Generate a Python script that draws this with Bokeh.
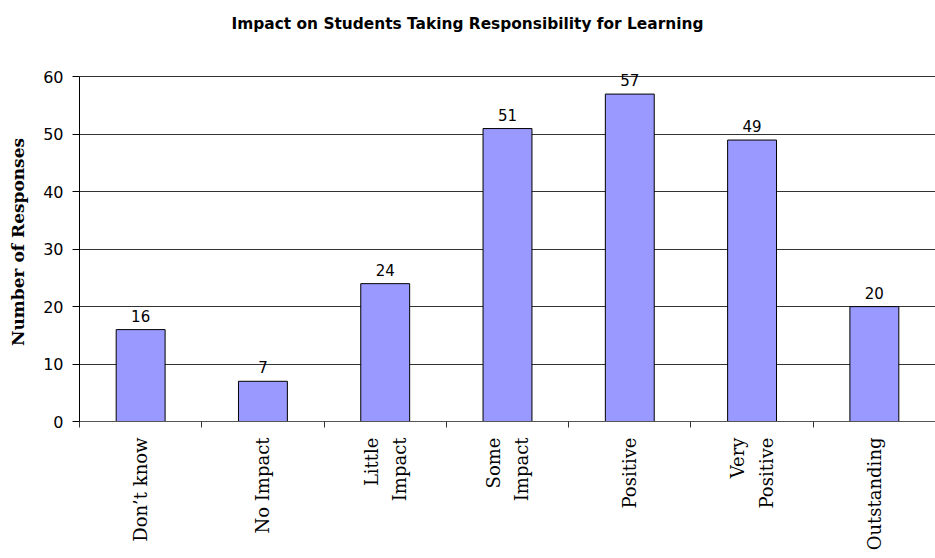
import math
from bokeh.plotting import figure
from bokeh.models import ColumnDataSource, FixedTicker, Range1d
from bokeh.core.properties import value
from bokeh.embed import file_html
from bokeh.resources import INLINE

# ---- data ----
categories = ["Don\u2019t know", "No Impact", "Little\nImpact", "Some\nImpact",
              "Positive", "Very\nPositive", "Outstanding"]
responses = [16, 7, 24, 51, 57, 49, 20]
y_ticks = [0, 10, 20, 30, 40, 50, 60]
title_text = "Impact on Students Taking Responsibility for Learning"
y_label = "Number of Responses"

xs = [i + 0.5 for i in range(len(categories))]
bounds = list(range(len(categories) + 1))
source = ColumnDataSource(dict(x=xs, top=responses, label=[str(v) for v in responses]))

p = figure(frame_width=856, frame_height=359,
           x_range=Range1d(0, len(categories)), y_range=Range1d(0, 62.5),
           output_backend="svg", toolbar_location=None,
           min_border_left=79, min_border_right=0, min_border_top=62, min_border_bottom=129)

# a trailing blank line lifts the title towards the top of the page
p.title.text = title_text + "\n "
p.title.align = "left"
p.title.offset = 152
p.title.text_font = "DejaVu Sans"
p.title.text_font_style = "bold"
p.title.text_font_size = "15.4px"
p.title.text_color = "black"
p.title.standoff = 24

p.outline_line_color = None
p.background_fill_color = "white"
p.border_fill_color = "white"

p.vbar(x="x", top="top", bottom=0, width=0.4, source=source,
       fill_color="#9999FF", line_color="black", line_width=1)
p.text(x="x", y="top", text="label", source=source, text_align="center",
       text_baseline="alphabetic", y_offset=-14,
       text_font=value("DejaVu Sans"), text_font_size="15px", text_color="black")

# y axis
p.yaxis.ticker = FixedTicker(ticks=y_ticks)
p.yaxis.bounds = (y_ticks[0], y_ticks[-1])
p.yaxis.axis_line_color = "black"
p.yaxis.major_tick_line_color = "black"
p.yaxis.major_tick_out = 7
p.yaxis.major_tick_in = 0
p.yaxis.minor_tick_line_color = None
p.yaxis.major_label_standoff = 9
p.yaxis.major_label_text_font = "DejaVu Sans"
p.yaxis.major_label_text_font_size = "16px"
p.yaxis.major_label_text_color = "black"
p.yaxis.axis_label = y_label
p.yaxis.axis_label_text_font = "DejaVu Serif"
p.yaxis.axis_label_text_font_style = "bold"
p.yaxis.axis_label_text_font_size = "17px"
p.yaxis.axis_label_text_color = "black"
p.yaxis.axis_label_standoff = 12

# x axis
p.xaxis.ticker = FixedTicker(ticks=xs, minor_ticks=bounds)
p.xaxis.major_label_overrides = {x: c for x, c in zip(xs, categories)}
p.xaxis.axis_line_color = "#555555"
p.xaxis.major_tick_line_color = None
p.xaxis.major_tick_out = 6
p.xaxis.major_tick_in = 0
p.xaxis.minor_tick_line_color = "#333333"
p.xaxis.minor_tick_out = 6
p.xaxis.minor_tick_in = 0
p.xaxis.major_label_orientation = math.pi / 2
p.xaxis.major_label_standoff = 10
p.xaxis.major_label_text_font = "DejaVu Serif"
p.xaxis.major_label_text_font_size = "18px"
p.xaxis.major_label_text_line_height = 1.35
p.xaxis.major_label_text_color = "black"

# grid
p.xgrid.grid_line_color = None
p.ygrid.ticker = FixedTicker(ticks=y_ticks)
p.ygrid.grid_line_color = "#333333"
p.ygrid.grid_line_width = 1

open("out.html", "w").write(file_html(p, INLINE))
